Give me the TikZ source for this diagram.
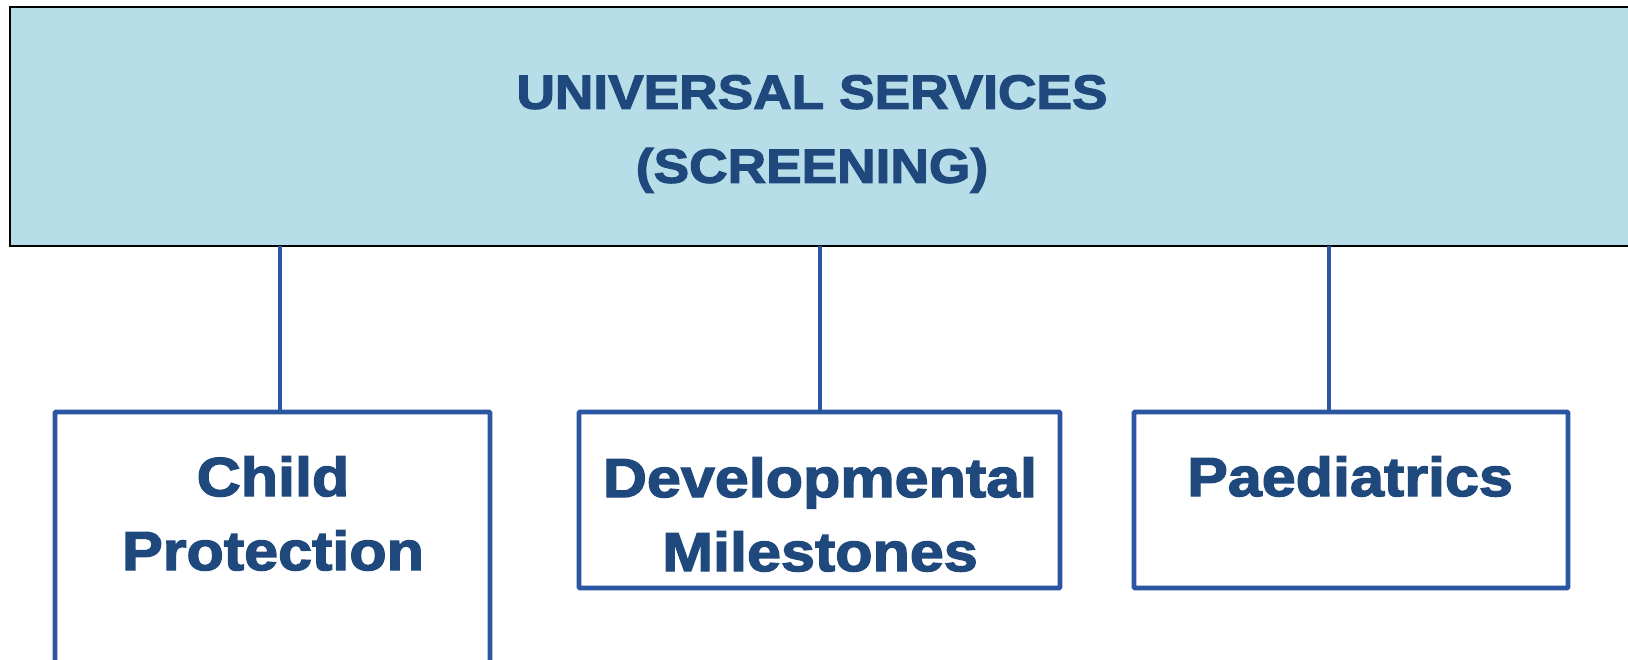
\documentclass[tikz,border=0pt]{standalone}
\usepackage{fontspec}
\newfontfamily\lblfont[FakeStretch=1.11,FakeBold=2.5]{Liberation Sans Bold}
\definecolor{txtblue}{RGB}{31,73,125}
\definecolor{lineblue}{RGB}{43,87,162}
\definecolor{fillblue}{RGB}{183,221,232}
\tikzset{
  topbox/.style={draw=black, line width=2.5pt, fill=fillblue, anchor=north west, inner sep=0pt, outer sep=0pt},
  subbox/.style={draw=lineblue, line width=4.8pt, fill=white, anchor=north west, inner sep=0pt, outer sep=0pt, rounded corners=1pt},
  conn/.style={draw=lineblue, line width=4.8pt},
  toplbl/.style={text=txtblue, align=center, anchor=north, inner sep=0pt, font=\lblfont\fontsize{48}{74}\selectfont},
  sublbl/.style={text=txtblue, align=center, anchor=north, inner sep=0pt, font=\lblfont\fontsize{55}{74}\selectfont}
}
\begin{document}
\begin{tikzpicture}[x=1pt,y=-1pt]
\useasboundingbox (0,0) rectangle (1628,660);
\node[topbox, minimum width=1640pt, minimum height=239pt] (top) at (10,7) {};
\node[subbox, minimum width=435pt, minimum height=280pt] (cp) at (55,412) {};
\node[subbox, minimum width=481pt, minimum height=176pt] (dm) at (579,412) {};
\node[subbox, minimum width=434pt, minimum height=176pt] (pd) at (1134,412) {};
\coordinate (c1) at (280,246);
\coordinate (c2) at (820,246);
\coordinate (c3) at (1329,246);
\draw[conn] (c1) -- (c1 |- cp.north);
\draw[conn] (c2) -- (c2 |- dm.north);
\draw[conn] (c3) -- (c3 |- pd.north);
\node[toplbl] (toptxt) at (812,75) {UNIVERSAL SERVICES\\(SCREENING)};
\node[sublbl] (cptxt) at (273,456) {Child\\Protection};
\node[sublbl] (dmtxt) at (820,457) {Developmental\\Milestones};
\node[sublbl] (pdtxt) at (1350,456) {Paediatrics};
\end{tikzpicture}
\end{document}
